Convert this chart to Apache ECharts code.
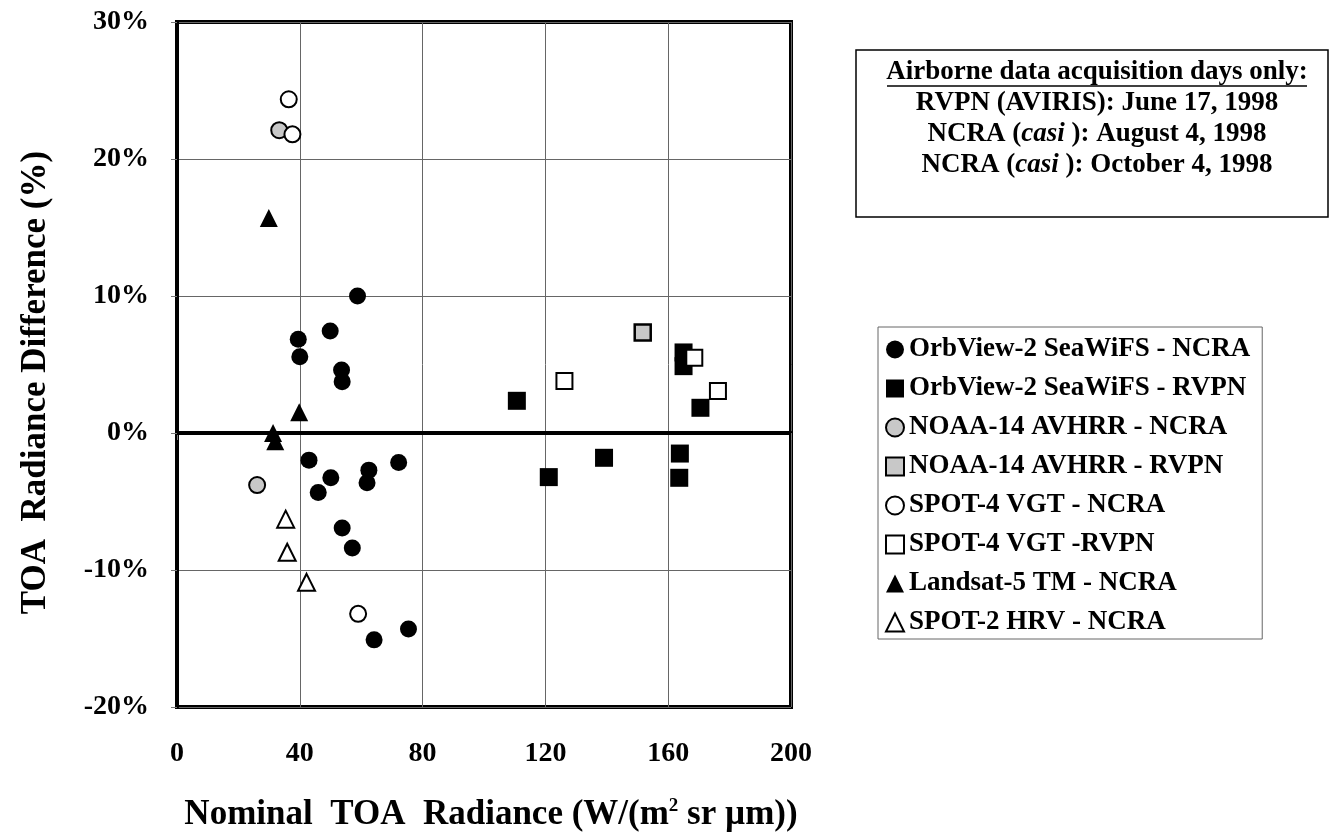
<!DOCTYPE html>
<html>
<head>
<meta charset="utf-8">
<script src="https://cdn.jsdelivr.net/npm/echarts@6/dist/echarts.min.js"></script>
<style>
  html, body { margin: 0; padding: 0; background: #fff; }
  #chart { width: 1330px; height: 837px; }
</style>
</head>
<body>
<div id="chart"></div>
<script>
// [radiance, difference %]
var seawifsNcra = [
  [58.8, 10.0], [39.5, 6.85], [40.0, 5.56], [49.9, 7.45], [53.6, 4.6], [53.8, 3.75],
  [43.0, -1.98], [50.1, -3.27], [46.0, -4.35], [62.5, -2.71], [61.9, -3.63], [72.2, -2.15],
  [53.8, -6.94], [57.1, -8.39], [64.2, -15.1], [75.4, -14.3]
];
var seawifsRvpn = [
  [110.7, 2.35], [165.0, 5.88], [165.0, 4.88], [170.5, 1.84],
  [139.1, -1.81], [121.1, -3.22], [163.8, -1.5], [163.6, -3.27]
];
var avhrrNcra = [[33.3, 22.1], [26.1, -3.8]];
var avhrrRvpn = [[151.7, 7.33]];
var vgtNcra = [[36.4, 24.36], [37.6, 21.8], [59.0, -13.2]];
var vgtRvpn = [[126.2, 3.8], [168.5, 5.5], [176.2, 3.07]];
var landsatNcra = [[29.9, 15.7], [39.8, 1.52], [31.3, 0.0], [32.0, -0.6]];
var hrvNcra = [[35.4, -6.29], [35.9, -8.7], [42.2, -10.9]];

var seriesNames = [
  'OrbView-2 SeaWiFS - NCRA',
  'OrbView-2 SeaWiFS - RVPN',
  'NOAA-14 AVHRR - NCRA',
  'NOAA-14 AVHRR - RVPN',
  'SPOT-4 VGT - NCRA',
  'SPOT-4 VGT -RVPN',
  'Landsat-5 TM - NCRA',
  'SPOT-2 HRV - NCRA'
];
var noteTitle = 'Airborne data acquisition days only:';
var noteLines = [
  'RVPN (AVIRIS): June 17, 1998',
  'NCRA ({i|casi} ): August 4, 1998',
  'NCRA ({i|casi} ): October 4, 1998'
];

var serif = 'Liberation Serif';
var chart = echarts.init(document.getElementById('chart'));

function ser(name, data, symbol, size, fill, border) {
  return {
    name: name,
    type: 'scatter',
    data: data,
    symbol: symbol,
    symbolSize: size,
    itemStyle: {
      color: fill,
      borderColor: '#000',
      borderWidth: border,
      opacity: 1
    },
    emphasis: { disabled: true }
  };
}

var series = [
  ser(seriesNames[0], seawifsNcra, 'circle', 17, '#000', 0),
  ser(seriesNames[1], seawifsRvpn, 'rect', 18, '#000', 0),
  ser(seriesNames[2], avhrrNcra, 'circle', 16, '#c8c8c8', 2),
  ser(seriesNames[3], avhrrRvpn, 'rect', 16, '#c8c8c8', 2.5),
  ser(seriesNames[4], vgtNcra, 'circle', 16, '#fff', 2),
  ser(seriesNames[5], vgtRvpn, 'rect', 16, '#fff', 2),
  ser(seriesNames[6], landsatNcra, 'triangle', 18, '#000', 0),
  ser(seriesNames[7], hrvNcra, 'triangle', 17, '#fff', 2)
];
series[0].markLine = {
  silent: true,
  symbol: 'none',
  label: { show: false },
  lineStyle: { color: '#000', width: 3, type: 'solid' },
  data: [{ yAxis: 0 }]
};

var option = {
  backgroundColor: '#fff',
  animation: false,
  grid: {
    left: 177, right: 539, top: 22, bottom: 126,
    show: true,
    borderColor: '#000',
    borderWidth: 4,
    backgroundColor: 'transparent'
  },
  xAxis: {
    type: 'value',
    min: 0, max: 200, interval: 40,
    name: 'Nominal  TOA  Radiance (W/(m{sup|2} sr µm))',
    nameLocation: 'middle',
    nameGap: 90,
    nameTextStyle: {
      fontFamily: serif, fontWeight: 'bold', fontSize: 35, color: '#000',
      padding: [0, 0, 0, 14],
      rich: { sup: { fontFamily: serif, fontWeight: 'bold', fontSize: 19, verticalAlign: 'top', padding: [0, 0, 16, 0] } }
    },
    axisLine: { show: true, lineStyle: { color: '#000', width: 4 } },
    axisTick: { show: true, length: 7, lineStyle: { color: '#777' } },
    axisLabel: { margin: 33, fontFamily: serif, fontWeight: 'bold', fontSize: 28, color: '#000' },
    splitLine: { show: true, lineStyle: { color: '#666', width: 1 } }
  },
  yAxis: {
    type: 'value',
    min: -20, max: 30, interval: 10,
    name: 'TOA  Radiance Difference (%)',
    nameLocation: 'middle',
    nameRotate: 90,
    nameGap: 124,
    nameTextStyle: {
      fontFamily: serif, fontWeight: 'bold', fontSize: 35, color: '#000',
      padding: [0, 36, 0, 0]
    },
    axisLine: { show: true, lineStyle: { color: '#000', width: 4 } },
    axisTick: { show: true, length: 6, lineStyle: { color: '#777' } },
    axisLabel: {
      margin: 28, fontFamily: serif, fontWeight: 'bold', fontSize: 28, color: '#000',
      formatter: '{value}%'
    },
    splitLine: { show: true, lineStyle: { color: '#666', width: 1 } }
  },
  legend: {
    orient: 'vertical',
    left: 878,
    top: 327,
    padding: [9, 12, 3, 7],
    itemGap: 12,
    itemWidth: 18,
    itemHeight: 18,
    borderColor: '#666',
    borderWidth: 1,
    selectedMode: false,
    textStyle: { fontFamily: serif, fontWeight: 'bold', fontSize: 27, lineHeight: 27, color: '#000' },
    data: [
      { name: seriesNames[0], icon: 'circle' },
      { name: seriesNames[1], icon: 'rect' },
      { name: seriesNames[2], icon: 'circle' },
      { name: seriesNames[3], icon: 'rect' },
      { name: seriesNames[4], icon: 'circle' },
      { name: seriesNames[5], icon: 'rect' },
      { name: seriesNames[6], icon: 'triangle' },
      { name: seriesNames[7], icon: 'triangle' }
    ]
  },
  graphic: [
    {
      type: 'rect',
      shape: { x: 856, y: 50, width: 472, height: 167 },
      style: { fill: '#fff', stroke: '#000', lineWidth: 1.5 }
    },
    {
      type: 'text',
      x: 1097, y: 72,
      style: {
        text: noteTitle,
        font: 'bold 27px "Liberation Serif"',
        fill: '#000',
        align: 'center',
        verticalAlign: 'middle'
      }
    },
    {
      type: 'line',
      shape: { x1: 887, y1: 86, x2: 1307, y2: 86 },
      style: { stroke: '#000', lineWidth: 1.5 }
    }
  ].concat(noteLines.map(function (t, i) {
    return {
      type: 'text',
      x: 1097, y: 103 + i * 31,
      style: {
        text: t,
        font: 'bold 27px "Liberation Serif"',
        fill: '#000',
        align: 'center',
        verticalAlign: 'middle',
        rich: { i: { fontFamily: serif, fontStyle: 'italic', fontWeight: 'bold', fontSize: 27 } }
      }
    };
  })),
  series: series
};

chart.setOption(option);
</script>
</body>
</html>
